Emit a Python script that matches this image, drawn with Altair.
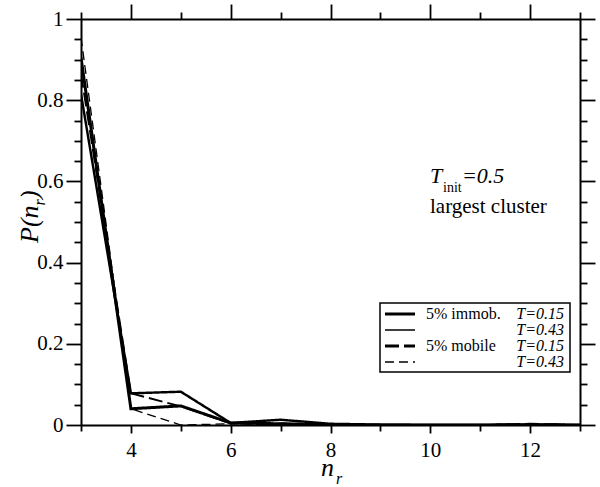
import altair as alt
import pandas as pd

# ---- data ----
n_r = [3, 4, 5, 6, 7, 8, 9, 10, 11, 12, 13]
immob_015 = [0.905, 0.040, 0.047, 0.005, 0.003, 0.001, 0.000, 0.000, 0.000, 0.001, 0.000]
immob_043 = [0.815, 0.078, 0.082, 0.005, 0.013, 0.003, 0.001, 0.000, 0.000, 0.001, 0.000]
mobile_015 = [0.865, 0.078, 0.046, 0.004, 0.004, 0.001, 0.000, 0.000, 0.000, 0.003, 0.000]
mobile_043 = [0.955, 0.040, 0.000, 0.003, 0.001, 0.000, 0.000, 0.000, 0.000, 0.000, 0.000]

series_names = ["immob 0.15", "immob 0.43", "mobile 0.15", "mobile 0.43"]
series_values = [immob_015, immob_043, mobile_015, mobile_043]
series_widths = [3.0, 1.3, 3.0, 1.3]
series_dashes = [[1, 0], [1, 0], [14, 5], [9, 5]]

x_major = [4, 6, 8, 10, 12]
x_minor = [3, 5, 7, 9, 11, 13]
y_major = [0, 0.2, 0.4, 0.6, 0.8, 1.0]
y_minor = [0.05, 0.1, 0.15, 0.25, 0.3, 0.35, 0.45, 0.5, 0.55, 0.65, 0.7, 0.75,
           0.85, 0.9, 0.95]

legend_left = ["5% immob.", "", "5% mobile", ""]
legend_right = ["T=0.15", "T=0.43", "T=0.15", "T=0.43"]

rows = []
for name, vals in zip(series_names, series_values):
    for x, v in zip(n_r, vals):
        rows.append({"n_r": x, "P": v, "series": name})
df = pd.DataFrame(rows)

FONT = "Liberation Serif"
xscale = alt.Scale(domain=[3, 13], nice=False, zero=False)
yscale = alt.Scale(domain=[0, 1], nice=False)


def ax(orient, values, size, labels=False, domain=False, pad=3, fmt=None):
    kw = dict(orient=orient, values=values, tickSize=size, labels=labels,
              domain=domain, domainWidth=2, domainColor="black", tickWidth=1.8,
              tickColor="black", grid=False, title=None, labelPadding=pad,
              labelFont=FONT, labelFontSize=21, labelFontStyle="normal",
              labelColor="black")
    if fmt:
        kw["format"] = fmt
    return alt.Axis(**kw)


lines = alt.Chart(df).mark_line(color="black", clip=True).encode(
    x=alt.X("n_r:Q", scale=xscale,
            axis=ax("bottom", x_major, 8, labels=True, domain=True, pad=6)),
    y=alt.Y("P:Q", scale=yscale,
            axis=ax("left", y_major, 15, labels=True, domain=True, pad=3, fmt=".1~f")),
    detail="series:N",
    strokeWidth=alt.StrokeWidth("series:N", scale=alt.Scale(domain=series_names, range=series_widths), legend=None),
    strokeDash=alt.StrokeDash("series:N", scale=alt.Scale(domain=series_names, range=series_dashes), legend=None),
)


def axis_layer(xa, ya):
    return alt.Chart(df).mark_point(opacity=0).encode(
        x=alt.X("n_r:Q", scale=xscale, axis=xa),
        y=alt.Y("P:Q", scale=yscale, axis=ya),
    )


minor_bl = axis_layer(ax("bottom", x_minor, 6), ax("left", y_minor, 7))
major_tr = axis_layer(ax("top", x_major, 15, domain=True), ax("right", y_major, 15, domain=True))
minor_tr = axis_layer(ax("top", x_minor, 7), ax("right", y_minor, 7))


def text(t, x, y, size=21, italic=False, align="left", angle=None, baseline="alphabetic"):
    kw = dict(font=FONT, fontSize=size, align=align, baseline=baseline, color="black",
              fontStyle="italic" if italic else "normal")
    if angle is not None:
        kw["angle"] = angle
    return alt.Chart(pd.DataFrame({"t": [t]})).mark_text(**kw).encode(
        x=alt.value(x), y=alt.value(y), text="t:N")


# legend box
legend_box = alt.Chart(pd.DataFrame({"a": [0]})).mark_rect(
    fill="white", stroke="black", strokeWidth=1.5).encode(
    x=alt.value(299), x2=alt.value(489), y=alt.value(284), y2=alt.value(353))

legend_layers = [legend_box]
row_y = [295, 311, 327, 343]
for i in range(4):
    legend_layers.append(
        alt.Chart(pd.DataFrame({"a": [0]})).mark_rule(
            color="black", strokeWidth=series_widths[i], strokeDash=series_dashes[i]).encode(
            x=alt.value(304), x2=alt.value(334), y=alt.value(row_y[i]))
    )
    if legend_left[i]:
        legend_layers.append(text(legend_left[i], 345, row_y[i], size=16, baseline="middle"))
    legend_layers.append(text(legend_right[i], 483, row_y[i], size=16, italic=True,
                              align="right", baseline="middle"))

annotations = [
    text("T", 349, 164, size=22, italic=True),
    text("init", 362, 173, size=14),
    text("=0.5", 381, 164, size=22, italic=True),
    text("largest cluster", 349, 194, size=21),
    # x title n_r
    text("n", 240, 457, size=26, italic=True),
    text("r", 255, 465, size=16, italic=True),
    # y title P(n_r), rotated
    text("P(n", -43, 224, size=26, italic=True, angle=270),
    text("r", -36, 186.5, size=16, italic=True, angle=270),
    text(")", -43, 180, size=26, italic=True, angle=270),
]

chart = alt.layer(
    lines, minor_bl, major_tr, minor_tr, *legend_layers, *annotations
).resolve_axis(x="independent", y="independent").properties(
    width=499, height=406,
    autosize=alt.AutoSizeParams(type="none"),
    padding={"left": 81, "top": 19, "right": 20, "bottom": 62},
    background="white",
).configure_view(stroke=None)

chart.save("out.html", embed_options={"renderer": "svg", "actions": False})
